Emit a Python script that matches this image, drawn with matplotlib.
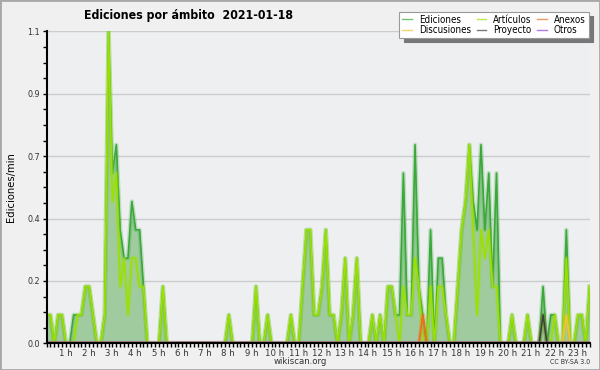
import numpy as np
import matplotlib
matplotlib.use('Agg')
import matplotlib.pyplot as plt
from matplotlib.lines import Line2D
from matplotlib.patches import Rectangle

plt.rcParams['font.family'] = ['DejaVu Sans']
plt.rcParams['font.stretch'] = 'condensed'

# ediciones por intervalo de 10 minutos (00:00 - 23:20)
ediciones = [1, 1, 0, 1, 1, 0, 0, 1, 1, 1, 2, 2, 1, 0, 0, 1, 11, 6, 7, 4,
             3, 3, 5, 4, 4, 2, 0, 0, 0, 0, 2, 0, 0, 0, 0, 0, 0, 0, 0, 0,
             0, 0, 0, 0, 0, 0, 0, 1, 0, 0, 0, 0, 0, 0, 2, 0, 0, 1, 0, 0,
             0, 0, 0, 1, 0, 0, 2, 4, 4, 1, 1, 2, 4, 1, 1, 0, 1, 3, 0, 1,
             3, 0, 0, 0, 1, 0, 1, 0, 2, 2, 1, 1, 6, 1, 1, 7, 2, 1, 0, 4,
             0, 3, 3, 1, 0, 0, 2, 4, 5, 7, 5, 4, 7, 4, 6, 2, 6, 0, 0, 0,
             1, 0, 0, 0, 1, 0, 0, 0, 2, 0, 1, 1, 0, 0, 4, 0, 0, 1, 1, 0,
             2]
articulos = [1, 1, 0, 1, 1, 0, 0, 0, 1, 1, 2, 2, 1, 0, 0, 1, 11, 5, 6, 2,
             3, 1, 3, 3, 2, 2, 0, 0, 0, 0, 2, 0, 0, 0, 0, 0, 0, 0, 0, 0,
             0, 0, 0, 0, 0, 0, 0, 1, 0, 0, 0, 0, 0, 0, 2, 0, 0, 1, 0, 0,
             0, 0, 0, 1, 0, 0, 2, 4, 4, 1, 1, 2, 4, 1, 1, 0, 1, 3, 0, 1,
             3, 0, 0, 0, 1, 0, 1, 0, 2, 2, 1, 0, 2, 1, 1, 3, 2, 0, 0, 2,
             0, 2, 2, 1, 0, 0, 2, 4, 5, 7, 4, 1, 4, 3, 4, 2, 2, 0, 0, 0,
             1, 0, 0, 0, 1, 0, 0, 0, 1, 0, 0, 1, 0, 0, 3, 0, 0, 1, 1, 0,
             2]
anexos = [0] * 141
anexos[97] = 1
discusiones = [0] * 141
discusiones[134] = 1
proyecto = [0] * 141
proyecto[128] = 1
otros = [0] * 141

hour_labels = ['%d h' % h for h in range(1, 24)]
y_ticks = [0.0, 0.22, 0.44, 0.66, 0.88, 1.1]
y_labels = ['0.0', '0.2', '0.4', '0.7', '0.9', '1.1']

# pasar a ediciones/min
x = np.arange(len(ediciones)) / 6.0
tot = np.array(ediciones) / 10.0

fig = plt.figure(figsize=(6, 3.7), dpi=100, facecolor='#f0f0f0')
fig.patches.append(Rectangle((0, 0), 1, 1, transform=fig.transFigure,
                             fill=False, edgecolor='#a8a8a8', linewidth=2))
ax = fig.add_axes([46.5 / 600, 1 - 343.3 / 370, 543.5 / 600, 312 / 370])
ax.set_facecolor('#eeeff1')

ax.fill_between(x, 0, tot, color='#9fcb9f', linewidth=0, zorder=1)

series = [
    (tot, '#3aa83a', 'Ediciones'),
    (np.array(articulos) / 10.0, '#9be000', 'Artículos'),
    (np.array(anexos) / 10.0, '#f06a20', 'Anexos'),
    (np.array(discusiones) / 10.0, '#f5c230', 'Discusiones'),
    (np.array(proyecto) / 10.0, '#404040', 'Proyecto'),
    (np.array(otros) / 10.0, '#9040e0', 'Otros'),
]
for vals, col, name in series:
    ax.plot(x, vals, color=col, linewidth=3.2, alpha=0.25, zorder=2)
    ax.plot(x, vals, color=col, linewidth=1.2, zorder=2)

ax.set_xlim(0, 140.1 / 6)
ax.set_ylim(0, 1.1)

ax.set_yticks(y_ticks)
ax.set_yticklabels(y_labels, fontsize=6.5, color='#333333')
ax.set_yticks(np.arange(0, 1.1, 0.055), minor=True)
ax.yaxis.grid(True, which='major', color='#cccccc', linewidth=1)
ax.set_axisbelow(True)

# etiquetas de hora un poco a la izquierda de la marca
ax.set_xticks(np.arange(1, 24) - 0.19)
ax.set_xticklabels(hour_labels, fontsize=6.8, color='#333333')
ax.set_xticks(np.arange(0, 141) / 6.0, minor=True)

ax.tick_params(axis='both', which='both', direction='out', color='black',
               width=1, length=3)
ax.tick_params(axis='x', which='major', length=0, pad=4)
ax.tick_params(axis='y', which='both', pad=1.5)
for side in ['top', 'right']:
    ax.spines[side].set_visible(False)
ax.spines['left'].set_linewidth(1.5)
ax.spines['bottom'].set_linewidth(1.5)

ax.set_ylabel('Ediciones/min', fontsize=8, labelpad=8)
fig.text(189 / 600, 1 - 15 / 370, 'Ediciones por ámbito  2021-01-18',
         ha='center', va='center', fontsize=8.8, fontweight='bold')
fig.text(300 / 600, 1 - 362 / 370, 'wikiscan.org', ha='center', va='center',
         fontsize=6.8, color='#333333')
fig.text(590 / 600, 1 - 362.5 / 370, 'CC BY-SA 3.0', ha='right', va='center',
         fontsize=5, color='#333333')

order = [0, 3, 1, 4, 2, 5]
handles = [Line2D([], [], color=series[k][1], linewidth=1, alpha=0.7)
           for k in order]
labels = [series[k][2] for k in order]
leg = fig.legend(handles, labels, ncol=3, fontsize=7,
                 loc='upper right', bbox_to_anchor=(593.5 / 600, 1 - 7 / 370),
                 frameon=True, fancybox=False,
                 shadow={'color': '#777777', 'alpha': 1, 'ox': 3, 'oy': -3},
                 handlelength=1.0, handletextpad=0.7, columnspacing=0.6,
                 labelspacing=0.05, borderpad=0.3, edgecolor='#999999')
leg.get_frame().set_linewidth(0.8)

fig.savefig('out.png', dpi=100, facecolor=fig.get_facecolor())
